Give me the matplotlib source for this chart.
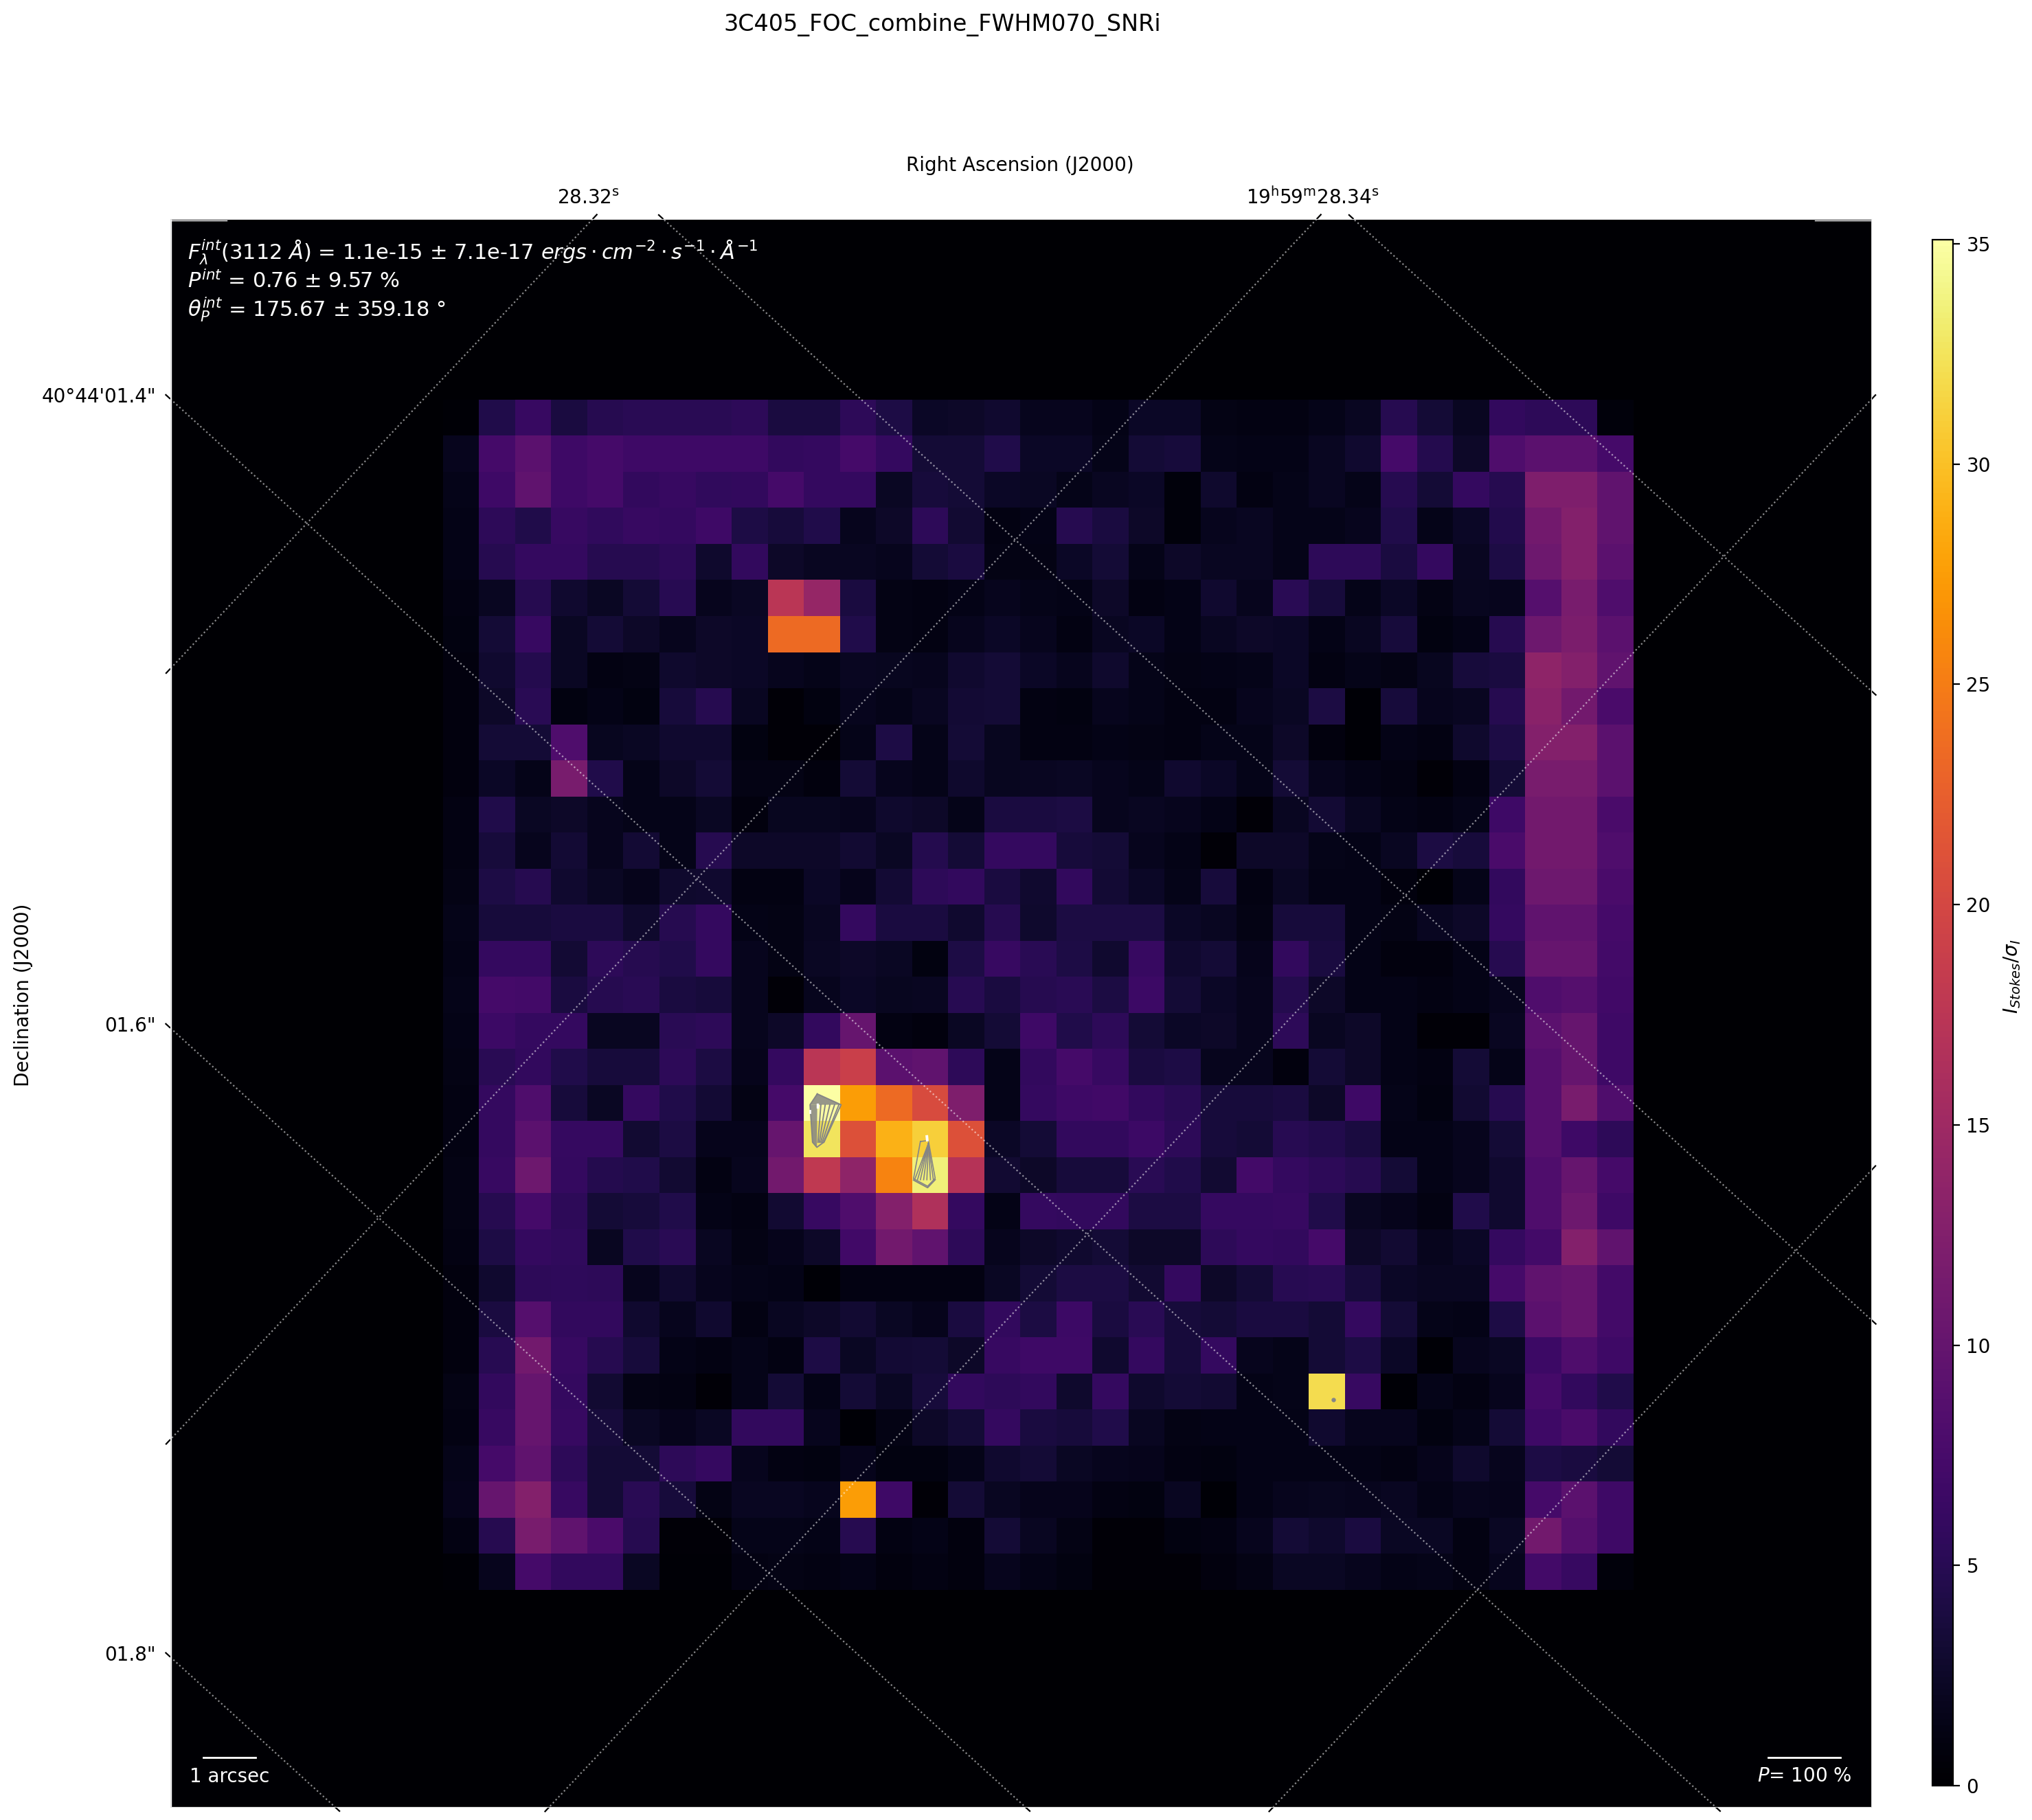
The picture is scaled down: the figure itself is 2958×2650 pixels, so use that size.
import numpy as np
import matplotlib
matplotlib.use('Agg')
import matplotlib.pyplot as plt

# SNR map, one list per row, top to bottom
snr_rows = [
    [.3, 4.4, 6.3, 3.9, 4.9, 5.2, 5.2, 5.2, 5.4, 3.9, 3.9, 5.4, 4.2, 2.4, 2.6, 2.9, 1.8, 1.8, 1.4, 2.4, 2.4, 1.3, 1.2, 1.1, 1.6, 2.1, 4.9, 3.4, 2.1, 5.8, 5.4, 5.4, .7],
    [1.9, 7.3, 9.2, 6.8, 7.3, 6.8, 6.8, 6.8, 6.8, 5.8, 5.9, 7.3, 5.9, 3.4, 3.4, 4.4, 2.4, 2.4, 1.6, 3.4, 3.7, 1.6, 1.5, 1.5, 2.1, 2.9, 7.3, 4.7, 2.6, 8.2, 9.2, 9.2, 7.3],
    [1.6, 6.8, 9.7, 6.8, 7.3, 5.8, 6.3, 5.7, 5.8, 7.3, 5.9, 5.9, 2.3, 3.6, 3.3, 2.4, 2.3, 1.6, 2.1, 2.4, .8, 2.8, 1.1, 1.6, 2.1, 1.6, 4.9, 3.4, 5.9, 4.9, 12.2, 12.2, 9.7],
    [1.4, 5.4, 4.4, 6.3, 5.7, 6.3, 5.9, 6.8, 4.2, 3.6, 4.4, 1.8, 2.6, 5.4, 3.1, 1.2, 1.4, 4.9, 3.9, 2.6, .8, 1.8, 2.1, 1.6, 1.6, 1.8, 4.4, 1.6, 2.4, 4.6, 11.2, 12.7, 9.7],
    [1.4, 4.9, 6, 5.9, 4.9, 4.9, 5.4, 2.8, 5.8, 2.6, 2.1, 2.1, 1.9, 3.4, 3.9, 1.3, 1.3, 2.4, 3.4, 1.6, 2.6, 2.1, 2.1, 1.6, 5.4, 5.4, 3.9, 5.9, 2.1, 4.2, 10.7, 12.7, 9.2],
    [1.1, 2.1, 4.9, 2.9, 2.2, 3.4, 5, 1.8, 2.2, 17.5, 14.2, 3.9, 1.3, 1.2, 1.4, 1.8, 1.6, 1.4, 2.6, 1.1, 1.4, 3, 1.8, 5.2, 3.6, 1.6, 2.4, 1.3, 2, 1.8, 8.7, 11.7, 8.2],
    [1, 3.4, 6.3, 2.2, 3.4, 2.6, 1.8, 2.6, 2.4, 23.5, 23.5, 4.4, 1.3, 1.2, 1.8, 2.4, 1.9, 1.1, 2.1, 2.4, 1.4, 2.1, 2.6, 2.4, 1.4, 2.1, 3.6, 1, 1.4, 4.9, 10.7, 12, 9.2],
    [.9, 2.9, 4.7, 2.2, 1.1, 1.3, 2.8, 2.6, 2.4, 1.9, 1.6, 2.1, 2, 1.8, 3, 3.4, 2.4, 1.9, 2.8, 1.6, 1.3, 1.4, 1.6, 2.4, 1.2, 1.6, 1.3, 2, 3.7, 3.9, 13.7, 12.7, 9.7],
    [.9, 2.6, 5.2, 1, 1.4, 1, 3.7, 4.9, 2.1, .5, 1, 1.8, 1.6, 2.1, 3.2, 3.4, 1.2, 1, 1.8, 1.6, 1.2, 1.1, 1.8, 2.2, 4, .4, 3.7, 1.9, 2.1, 4.9, 13.2, 11.2, 7.7],
    [.9, 3.4, 3.4, 8.2, 2, 2.2, 3, 2.9, 1, .5, .5, 1.6, 4.2, 1.6, 3.4, 2, 1.2, 1.2, 1.5, 1.3, 1.2, 1.6, 1.6, 2.6, .9, .4, 1.5, 1.2, 2.8, 4.2, 12.7, 12.7, 9.2],
    [.9, 2.4, 1.6, 11.7, 4.4, 1.6, 2.6, 3.4, 1.3, 1.3, .9, 3.4, 1.9, 1.6, 2.8, 2, 2.1, 2.2, 1.8, 1.6, 3, 2.4, 1.6, 3.4, 1.8, 1.5, 1.1, .5, 1.2, 3.4, 11.7, 11.7, 9.2],
    [1.2, 4.4, 2.2, 2.6, 1.8, 1.6, 1.6, 2.2, .9, 2, 2, 1.8, 2.8, 2.6, 1.6, 3.9, 3.9, 4, 1.8, 2.1, 1.8, 1.5, .5, 2.1, 3.2, 2.1, 1.4, 1.1, 1.6, 6.8, 11.2, 11.2, 7.7],
    [1.1, 3.7, 1.8, 3.2, 1.8, 3.2, 1.6, 4.9, 2.6, 2.6, 2.6, 3.1, 2.3, 4.7, 3.4, 5.9, 5.9, 3.6, 3.4, 1.8, 1.5, .5, 2.6, 2.6, 1.6, 1.4, 2.1, 4, 3.7, 7.7, 11.2, 11.2, 8.2],
    [1.3, 4.2, 4.9, 3, 2.2, 1.7, 2.8, 2.9, 1.2, 1.2, 2.4, 1.7, 3.2, 5.4, 5.8, 3.9, 2.9, 5.8, 3.2, 2.4, 1.6, 3.6, 1.2, 2.2, 1.5, 1.5, .9, .4, 1.6, 5.8, 10.7, 10.7, 7.7],
    [1.6, 3.7, 3.7, 3.9, 3.9, 2.8, 4.9, 5.9, 1.4, 1.3, 2.1, 6, 3.9, 3.9, 3, 4.9, 2.8, 4, 4, 4, 2.4, 2.1, 1.3, 3.7, 3.7, 1.4, 1.3, 2.1, 2.6, 5.9, 9.7, 9.7, 7.3],
    [1.4, 5.9, 5.9, 3.2, 5.4, 4.9, 4.4, 5.9, 1.8, 1.3, 2.3, 2.6, 2.3, 1, 4.2, 6.3, 5.2, 4.2, 3, 6.3, 2.9, 3.4, 1.7, 5.8, 3.9, 1.4, .9, .9, 1.4, 4.9, 10.2, 10.2, 7.2],
    [1.6, 7.3, 7.2, 3.9, 4.9, 5.2, 3.9, 3.6, 1.9, .5, 1.9, 2.4, 2, 2.1, 5, 3.9, 4.9, 5.2, 4, 6.6, 3.4, 2.4, 1.8, 4.7, 2.6, 1.5, 1.5, 1.2, 1.5, 1.8, 8.2, 8.7, 7],
    [1.5, 6.6, 5.9, 5.9, 2.1, 2.1, 5.2, 5.4, 1.8, 2.6, 5.8, 10.2, 1.1, .9, 2.2, 3.4, 6.8, 4.4, 5.4, 3.4, 2.4, 2.6, 1.8, 5.4, 2.1, 2.6, 1.4, .5, .5, 2.1, 9.2, 10.2, 6.8],
    [1.3, 5.2, 5.8, 4.4, 3.7, 3.7, 5.4, 4.1, 1.7, 5.9, 17.5, 19, 9.2, 9.7, 5.4, 1.6, 5.8, 7.3, 6.3, 3.9, 4.2, 1.9, 1.8, .9, 3.4, 2.6, 1.4, 1.1, 3.4, 1.6, 8.7, 10.2, 6.8],
    [1.2, 5.9, 8.2, 3.7, 2.3, 5.9, 4.4, 3.2, 1.3, 7.3, 35.09, 27.5, 23.5, 20.5, 12.2, 1.6, 5.9, 6.8, 7, 5.8, 5.2, 3.6, 3.7, 3.9, 2.6, 6.8, 1.6, 1, 3.1, 4.9, 8.7, 11.7, 8.2],
    [1.2, 5.9, 9.2, 6.1, 6.1, 3.1, 4.1, 1.7, 1.7, 10.2, 32.5, 21, 29, 31, 21, 2.4, 3.4, 5.8, 5.8, 6.6, 5.4, 3.6, 3.4, 5, 4.6, 3.9, 1.4, 1.5, 1.9, 3.4, 8.7, 6.8, 5.4],
    [1.3, 6.3, 10.7, 5.9, 4.7, 4.4, 3.1, 1.1, 1.8, 11.2, 18, 13.7, 25.5, 33.5, 17, 3.1, 2.6, 3.6, 3.6, 5.2, 4.4, 3.1, 7.2, 5.9, 5.4, 4.9, 3.4, 1.5, 1.9, 3, 8.2, 10.2, 7.3],
    [1.3, 4.9, 7.3, 5.4, 3.4, 3.6, 4.4, 1.4, 1.1, 3.1, 6.3, 8.2, 12.7, 16.5, 5.9, 1.5, 5.9, 5.8, 5.8, 4.1, 4.1, 6.1, 6.1, 6.3, 4.4, 2.1, 1.7, 1.2, 4.4, 3, 8.2, 10.7, 6.8],
    [1.1, 4.2, 5.9, 5.7, 2.1, 4.4, 5.2, 2.1, 1.3, 1.7, 2.6, 7.1, 11.2, 9.7, 5.4, 1.8, 2.6, 2.9, 3.4, 2.6, 2.6, 5.4, 5.9, 5.8, 7.3, 2.6, 3.1, 1.8, 2.4, 5.9, 7.2, 12.7, 9.7],
    [.9, 3, 5.4, 5.6, 5.4, 1.9, 3, 1.8, 1.6, 1.5, .4, 1.2, 1.2, 1.2, 1.1, 2.2, 3.4, 4, 4, 3.1, 6, 2.5, 3.4, 5, 5.2, 3.6, 2.4, 2.1, 2.1, 7.3, 9.7, 10.2, 7.2],
    [.9, 3.9, 8.7, 5.8, 5.8, 3, 1.8, 3, 1.2, 2.1, 2.6, 3.1, 2.2, 1.7, 3.9, 5.8, 4, 6.6, 3.9, 5.2, 3.7, 3.4, 3.9, 3.9, 3.4, 5.9, 3.4, 1.6, 1.5, 4.2, 9.2, 10.2, 7.2],
    [.9, 5, 11.2, 6.3, 4.9, 3.7, 1.5, 1.1, 1.6, 1.2, 4.2, 2.3, 3.2, 3.4, 2.6, 6.3, 6.8, 6.8, 2.9, 6, 3.6, 6, 1.9, 1.6, 3.4, 4.2, 2.4, .4, 1.9, 2.3, 6.6, 8.2, 6.8],
    [1.3, 5.8, 10.2, 6, 3.1, 1.3, 1.2, .5, 1.6, 3.4, 1.5, 3.4, 2.3, 3.7, 5.8, 5.4, 5.8, 2.8, 6, 2.8, 3.4, 3.1, 1.4, 1.6, 32, 6.3, .4, 1.6, 1.1, 1.9, 7.3, 5.8, 4.4],
    [1.2, 6.3, 10.2, 6.3, 3.6, 2.3, 1.7, 2.3, 5.8, 5.8, 1.9, .4, 1.3, 2.6, 3.4, 6, 3.9, 3.6, 4.4, 2.1, 1.3, 1.4, 1.5, 1.5, 2.9, 1.9, 1.9, 1, 1.6, 3.4, 6.8, 7.7, 5.8],
    [1.6, 7.3, 9.7, 5.4, 3.3, 3.4, 5.4, 6.1, 1.9, 1.2, 1, 1.7, 1, 1, 1.6, 3, 3.4, 2.2, 1.8, 1.7, 1.1, 1, 1.4, 1.4, 1.4, 1.5, 1.1, 1.7, 2.8, 1.8, 4.2, 3.9, 3.4],
    [1.7, 10.2, 12.7, 6.3, 3.4, 5.2, 3.6, 1.3, 2.1, 2.1, 1.8, 27.5, 6.8, .5, 3.4, 2.1, 1.7, 1.7, 1.2, 1, 2.1, .4, 1.5, 1.8, 2, 1.8, 2.1, 1.5, 1.8, 1.7, 7.3, 9.2, 6.8],
    [1.2, 4.9, 11.7, 9.7, 7.7, 4.9, .5, .5, 1.6, 1.6, 1.4, 4.9, 1.1, 1.5, .9, 3.4, 2.1, 1.3, .5, .5, 1, 1.1, 1.8, 3.4, 2.8, 3.9, 2.2, 2.3, 1.1, 2.2, 11.2, 8.7, 6.8],
    [.3, 1.9, 7.3, 5.8, 5.8, 2.3, .4, .4, 1.2, 1.3, 1.2, 1.4, .9, 1.2, .9, 1.8, 1.4, 1, .5, .5, .5, .9, 1.3, 2.2, 2.2, 1.9, 1.5, 1.6, 1.2, 1.9, 7.2, 6.3, .7],
]

# sky grid shown on the map
dec_ticks = [1.0, 1.2, 1.4, 1.6, 1.8]
ra_ticks = [28.32, 28.34, 28.36, 28.38]
dec_labels = {1.4: '40°44\'01.4"', 1.6: '01.6"', 1.8: '01.8"'}
ra_labels = {28.32: '28.32$^{\\mathrm{s}}$', 28.34: '19$^{\\mathrm{h}}$59$^{\\mathrm{m}}$28.34$^{\\mathrm{s}}$'}

# polarisation vectors (pixel coords): outline, dense bands and hatching of the two blobs
blob1_col = [10.38, 11.04, 10.57, 10.37, 10.25, 10.18, 10.38]
blob1_row = [19.24, 19.54, 20.57, 20.72, 20.58, 19.54, 19.24]
band1_col = [10.18, 10.38, 11.04, 10.38]
band1_row = [19.54, 19.24, 19.54, 19.54]
band2_col = [10.18, 10.38, 10.37, 10.25]
band2_row = [19.54, 19.54, 20.72, 20.58]
blob1_top = [10.48, 10.60, 10.73, 10.86, 10.98]
blob1_bot = [10.40, 10.44, 10.48, 10.52, 10.56]
blob2_col = [13.24, 13.46, 13.65, 13.44, 13.05, 13.24]
blob2_row = [20.56, 20.53, 21.58, 21.80, 21.59, 20.56]
blob2_bot = [13.08, 13.16, 13.24, 13.33, 13.42, 13.52, 13.60]

W, H = 2958, 2650
def fx(x):
    return x / W
def fy(y):
    return 1 - y / H

fig = plt.figure(figsize=(W / 200, H / 200), dpi=200)
ax = fig.add_axes([fx(248), fy(2631), (2724 - 248) / W, (2631 - 319) / H])
cmap = plt.get_cmap('inferno')
ax.set_facecolor(cmap(0.0))

snr = np.array(snr_rows)
im = ax.imshow(snr, cmap=cmap, vmin=0, vmax=35.09, origin='upper', aspect='auto',
               interpolation='nearest', extent=(0, 33, 33, 0))
xlim = (-7.56, 39.61)
ylim = (39.02, -5.03)
ax.set_xlim(xlim)
ax.set_ylim(ylim)
ax.set_xticks([])
ax.set_yticks([])
for sp in ax.spines.values():
    sp.set_color('#dddddd')
    sp.set_linewidth(0.4)

# thin white edges inside the frame
ax.plot([0.0006, 0.0006], [0, 1], color='w', lw=0.5, transform=ax.transAxes)
ax.plot([0.0004, 0.033], [0.999, 0.999], color='w', lw=0.5, transform=ax.transAxes)
ax.plot([0.967, 0.9996], [0.999, 0.999], color='w', lw=0.5, transform=ax.transAxes)

dec_slope = 0.9115
ra_slope = -1.065
tick_len = 10 / 52.5


def draw_ticks(c0, r0, m):
    # black tick outside the frame wherever a grid line leaves the axes
    dc, dr = 1 / np.hypot(1, m), m / np.hypot(1, m)
    hits = []
    for c in xlim:
        r = r0 + m * (c - c0)
        if ylim[1] <= r <= ylim[0]:
            hits.append((c, r, 1 if c == xlim[1] else -1))
    for r in ylim:
        c = c0 + (r - r0) / m
        if xlim[0] <= c <= xlim[1]:
            s = 1 if (r == ylim[0]) == (m > 0) else -1
            hits.append((c, r, s))
    for c, r, s in hits:
        ax.plot([c, c + s * dc * tick_len], [r, r + s * dr * tick_len], color='k', lw=0.8,
                clip_on=False, solid_capstyle='butt')


for dec in dec_ticks:
    r0 = 17.41 + (dec - 1.6) / 0.2 * 17.45
    ax.plot(xlim, [r0, r0 + dec_slope * (xlim[1] - xlim[0])], color='w', ls=':', lw=0.8, alpha=0.55)
    draw_ticks(xlim[0], r0, dec_slope)
    if dec in dec_labels:
        y_px = 583 + r0 * 52.5
        fig.text(fx(227), fy(y_px - 3), dec_labels[dec], ha='right', va='center', fontsize=10)

for ra in ra_ticks:
    c0 = 24.23 + (ra - 28.34) / 0.02 * 20.08
    ax.plot([c0, c0 + (ylim[0] - ylim[1]) / ra_slope], [ylim[1], ylim[0]], color='w', ls=':', lw=0.8, alpha=0.55)
    draw_ticks(c0, ylim[1], ra_slope)
    if ra in ra_labels:
        x_px = 645 + c0 * 52.5
        fig.text(fx(x_px - 6), fy(297), ra_labels[ra], ha='center', va='baseline', fontsize=10)

# polarisation vectors
vec_color = '#858585'
ax.fill(band1_col, band1_row, color=vec_color, alpha=0.85, lw=0)
ax.fill(band2_col, band2_row, color=vec_color, alpha=0.85, lw=0)
ax.plot(blob1_col, blob1_row, color=vec_color, lw=0.7)
for t, b in zip(blob1_top, blob1_bot):
    ax.plot([t, b], [19.54, 20.58], color=vec_color, lw=0.7)
ax.plot(blob2_col, blob2_row, color=vec_color, lw=0.6)
for b in blob2_bot:
    ax.plot([13.46, b], [20.62, 21.62], color=vec_color, lw=0.6)
ax.plot([13.05, 13.44, 13.65], [21.63, 21.84, 21.62], color=vec_color, lw=0.7)
ax.plot([10.38, 10.38], [19.52, 19.6], color='w', lw=1.2)
ax.plot([10.18, 10.18], [19.7, 19.76], color='w', lw=1.0)
ax.plot([13.42, 13.43], [20.42, 20.52], color='w', lw=1.4)
ax.plot([24.7], [27.73], marker='o', ms=1.3, color=vec_color)

# integrated values
txt = ('$F_{\\lambda}^{int}$(3112 $\\AA$) = 1.1e-15 $\\pm$ 7.1e-17 $ergs \\cdot cm^{-2} \\cdot s^{-1} \\cdot \\AA^{-1}$\n'
       '$P^{int}$ = 0.76 $\\pm$ 9.57 %\n'
       '$\\theta_{P}^{int}$ = 175.67 $\\pm$ 359.18 °')
fig.text(fx(273), fy(346), txt, color='w', fontsize=11, ha='left', va='top', linespacing=1.2)

# scale bars
ax.plot([(296 - 645) / 52.5, (372 - 645) / 52.5], [(2560 - 583) / 52.5] * 2, color='w', lw=1.0)
fig.text(fx(334), fy(2587), '1 arcsec', color='w', fontsize=10, ha='center', va='center')
ax.plot([(2574 - 645) / 52.5, (2680 - 645) / 52.5], [(2560 - 583) / 52.5] * 2, color='w', lw=1.0)
fig.text(fx(2627), fy(2586), '$P$= 100 %', color='w', fontsize=10, ha='center', va='center')

fig.text(fx(1372), fy(36), '3C405_FOC_combine_FWHM070_SNRi', fontsize=12, ha='center', va='center')
fig.text(fx(1485), fy(241), 'Right Ascension (J2000)', fontsize=10, ha='center', va='center')
fig.text(fx(34), fy(1449), 'Declination (J2000)', fontsize=10, rotation=90, ha='center', va='center')

cax = fig.add_axes([fx(2813), fy(2600), (2843 - 2813) / W, (2600 - 349) / H])
cb = fig.colorbar(im, cax=cax, ticks=[0, 5, 10, 15, 20, 25, 30, 35])
fig.text(fx(2929), fy(1422), '$I_{Stokes}/\\sigma_I$', fontsize=10, rotation=90, ha='center', va='center')

fig.savefig('out.png', dpi=200)
